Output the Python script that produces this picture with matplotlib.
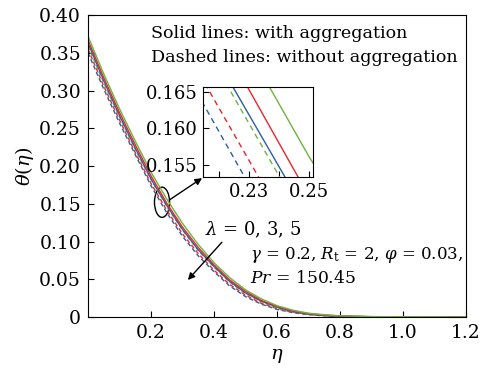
import matplotlib
matplotlib.use("Agg")
import matplotlib.pyplot as plt
from matplotlib.patches import Ellipse

plt.rcParams['font.family'] = ['DejaVu Serif']
plt.rcParams['mathtext.fontset'] = 'dejavuserif'

eta = [0, 0.05, 0.1, 0.15, 0.2, 0.25, 0.3, 0.35, 0.4, 0.45, 0.5, 0.55, 0.6, 0.65,
       0.7, 0.75, 0.8, 0.9, 1.0, 1.1, 1.2]
green_solid = [0.372, 0.322, 0.276, 0.233, 0.192, 0.1562, 0.124, 0.096, 0.072, 0.052, 0.036,
               0.024, 0.015, 0.009, 0.005, 0.003, 0.0015, 0.0005, 0.0002, 0.0001, 0.0]
red_solid = [0.367, 0.317, 0.271, 0.228, 0.187, 0.1508, 0.119, 0.092, 0.069, 0.049, 0.034,
             0.022, 0.014, 0.008, 0.0045, 0.0025, 0.0013, 0.0004, 0.0001, 0.0, 0.0]
blue_solid = [0.363, 0.313, 0.267, 0.224, 0.183, 0.1478, 0.116, 0.089, 0.067, 0.047, 0.032,
              0.021, 0.013, 0.0075, 0.004, 0.002, 0.001, 0.0003, 0.0001, 0.0, 0.0]
green_dashed = [0.359, 0.310, 0.265, 0.222, 0.182, 0.1465, 0.115, 0.088, 0.066, 0.046, 0.031,
                0.020, 0.012, 0.007, 0.0038, 0.002, 0.001, 0.0003, 0.0001, 0.0, 0.0]
red_dashed = [0.355, 0.306, 0.261, 0.218, 0.177, 0.1415, 0.110, 0.084, 0.062, 0.043, 0.029,
              0.018, 0.011, 0.0063, 0.0034, 0.0018, 0.0009, 0.0002, 0.0001, 0.0, 0.0]
blue_dashed = [0.350, 0.302, 0.257, 0.215, 0.174, 0.1380, 0.107, 0.081, 0.060, 0.041, 0.027,
               0.017, 0.010, 0.0058, 0.003, 0.0016, 0.0008, 0.0002, 0.0001, 0.0, 0.0]

GREEN = '#6cb43f'
RED = '#e8262a'
BLUE = '#2b5caa'

series = [
    (blue_dashed, BLUE, '--'),
    (red_dashed, RED, '--'),
    (green_dashed, GREEN, '--'),
    (blue_solid, BLUE, '-'),
    (red_solid, RED, '-'),
    (green_solid, GREEN, '-'),
]

xticks = [0.2, 0.4, 0.6, 0.8, 1.0, 1.2]
xticklabels = ['0.2', '0.4', '0.6', '0.8', '1.0', '1.2']
yticks = [0, 0.05, 0.10, 0.15, 0.20, 0.25, 0.30, 0.35, 0.40]
yticklabels = ['0', '0.05', '0.10', '0.15', '0.20', '0.25', '0.30', '0.35', '0.40']

inset_xticks = [0.22, 0.23, 0.24, 0.25]
inset_xticklabels = ['', '0.23', '', '0.25']
inset_yticks = [0.155, 0.160, 0.165]
inset_yticklabels = ['0.155', '0.160', '0.165']

fig = plt.figure(figsize=(4.82, 3.69), dpi=100)
ax = fig.add_axes([0.1826, 0.141, 0.7842, 0.818])
for y, c, ls in series:
    ax.plot(eta, y, color=c, ls=ls, lw=1.0, dashes=(3, 2) if ls == '--' else (None, None))
ax.set_xlim(0, 1.2)
ax.set_ylim(0, 0.40)
ax.set_xticks(xticks)
ax.set_xticklabels(xticklabels)
ax.set_yticks(yticks)
ax.set_yticklabels(yticklabels)
ax.tick_params(direction='in', labelsize=13.5, length=4, width=0.8, pad=5)
ax.set_xlabel(r'$\eta$', fontsize=14, labelpad=4)
ax.set_ylabel(r'$\theta(\eta)$', fontsize=14, labelpad=2)

ax.text(0.2, 0.376, 'Solid lines: with aggregation', fontsize=12.6, va='center')
ax.text(0.2, 0.344, 'Dashed lines: without aggregation', fontsize=12.6, va='center')
ax.text(0.37, 0.115, r'$\lambda$ = 0, 3, 5', fontsize=13, va='center')
ax.text(0.515, 0.082, r'$\gamma$ = 0.2, $R_{\rm t}$ = 2, $\varphi$ = 0.03,', fontsize=12, va='center')
ax.text(0.515, 0.051, r'$Pr$ = 150.45', fontsize=12.3, va='center')

ax.add_patch(Ellipse((0.235, 0.152), 0.048, 0.04, angle=0, fill=False, lw=1.0, color='black'))
ax.annotate('', xy=(0.362, 0.184), xytext=(0.258, 0.155),
            arrowprops=dict(arrowstyle='-|>', color='black', lw=1.0, mutation_scale=10,
                            shrinkA=0, shrinkB=0))
ax.annotate('', xy=(0.317, 0.049), xytext=(0.425, 0.099),
            arrowprops=dict(arrowstyle='-|>', color='black', lw=1.0, mutation_scale=10,
                            shrinkA=0, shrinkB=0))

axi = fig.add_axes([0.421, 0.520, 0.228, 0.244])
for y, c, ls in series:
    axi.plot(eta, y, color=c, ls=ls, lw=1.0, dashes=(4, 3) if ls == '--' else (None, None))
axi.set_xlim(0.2147, 0.2513)
axi.set_ylim(0.1534, 0.1656)
axi.set_xticks(inset_xticks)
axi.set_xticklabels(inset_xticklabels)
axi.set_yticks(inset_yticks)
axi.set_yticklabels(inset_yticklabels)
axi.tick_params(direction='in', labelsize=13, length=4, width=0.8, pad=4)

fig.savefig('out.png', dpi=100)
